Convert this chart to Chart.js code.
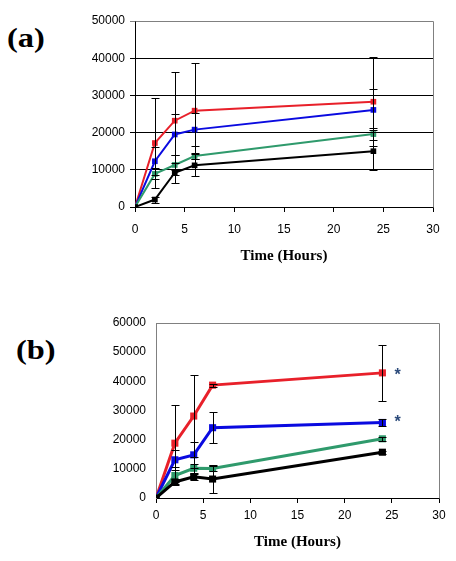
<!DOCTYPE html>
<html>
<head>
<meta charset="utf-8">
<script src="https://cdn.jsdelivr.net/npm/chart.js@4.4.1/dist/chart.umd.min.js"></script>
<style>
  html, body { margin: 0; padding: 0; background: #fff; }
  body { width: 456px; height: 561px; position: relative; overflow: hidden; }
  .panel { position: absolute; left: 0; width: 456px; }
  .tag {
    position: absolute; font-family: "Liberation Serif", serif; font-weight: bold;
    font-size: 27px; line-height: 30px; transform: scaleX(1.2); transform-origin: left center;
  }
</style>
</head>
<body>
<div class="tag" style="left:7px; top:23px;">(a)</div>
<div class="tag" style="left:16px; top:335px;">(b)</div>
<div class="panel" style="top:0; height:270px;"><canvas id="chartA"></canvas></div>
<div class="panel" style="top:280px; height:281px;"><canvas id="chartB"></canvas></div>
<script>
  // ---------- data ----------
  const TIMES = [0, 2, 4, 6, 24];

  // panel (a)
  const A_RED = [0, 17200, 23200, 25900, 28300];
  const A_RED_ERR = [0, 12100, 13200, 12900, 12000];
  const A_BLUE = [0, 12300, 19500, 20800, 26100];
  const A_BLUE_ERR = [0, 3800, 5400, 4400, 5500];
  const A_GREEN = [0, 8900, 11300, 13700, 19600];
  const A_GREEN_ERR = [0, 1500, 2600, 700, 1700];
  const A_BLACK = [0, 2000, 9200, 11200, 15000];
  const A_BLACK_ERR = [0, 800, 2700, 3000, 5100];

  // panel (b)
  const B_RED = [0, 18800, 28100, 38700, 42900];
  const B_RED_ERR = [0, 13200, 14100, 500, 9500];
  const B_BLUE = [0, 13100, 14800, 24100, 25900];
  const B_BLUE_ERR = [0, 3400, 4500, 5300, 1100];
  const B_GREEN = [0, 7700, 10200, 10100, 20300];
  const B_GREEN_ERR = [0, 2900, 1500, 800, 600];
  const B_BLACK = [0, 5500, 7300, 6500, 15700];
  const B_BLACK_ERR = [0, 1000, 1000, 4900, 500];

  // significance marks in (b)
  const B_STAR_X = [25.6, 25.6];
  const B_STAR_Y = [43500, 27100];

  const X_TITLE = "Time (Hours)";

  const RED = "#e8202a", BLUE = "#0a0ae0", GREEN = "#2f9a6c", BLACK = "#000000";
  const GRAY = "#808080";

  // ---------- helpers ----------
  const pts = (ys) => TIMES.map((t, i) => ({ x: t, y: ys[i] }));

  function series(label, ys, errs, color, width, r) {
    return {
      label, data: pts(ys), errs,
      borderColor: color, backgroundColor: color,
      borderWidth: width, pointStyle: "rect", pointRadius: r,
      pointBorderWidth: 0, tension: 0,
    };
  }

  // error bars + frame + stars, all via the chart scales
  const extras = {
    id: "extras",
    afterDatasetsDraw(chart, _args, opts) {
      const { ctx, chartArea: a, scales: { x, y } } = chart;
      ctx.save();
      // frame (top + right)
      ctx.strokeStyle = GRAY; ctx.lineWidth = 1;
      ctx.beginPath();
      ctx.moveTo(Math.round(a.left) + 0.5, Math.round(a.top) + 0.5);
      ctx.lineTo(Math.round(a.right) + 0.5, Math.round(a.top) + 0.5);
      ctx.lineTo(Math.round(a.right) + 0.5, Math.round(a.bottom) + 0.5);
      ctx.stroke();
      // error bars
      ctx.strokeStyle = "#000"; ctx.lineWidth = 1;
      chart.data.datasets.forEach((ds) => {
        ds.data.forEach((p, i) => {
          const e = ds.errs[i];
          if (!e) return;
          const px = Math.round(x.getPixelForValue(p.x)) + 0.5;
          const top = Math.round(y.getPixelForValue(p.y + e)) + 0.5;
          const bot = Math.round(y.getPixelForValue(p.y - e)) + 0.5;
          ctx.beginPath();
          ctx.moveTo(px, top); ctx.lineTo(px, bot);
          ctx.moveTo(px - 4, top); ctx.lineTo(px + 4, top);
          ctx.moveTo(px - 4, bot); ctx.lineTo(px + 4, bot);
          ctx.stroke();
        });
      });
      // stars
      if (opts.starsX) {
        ctx.fillStyle = "#2b4a7a";
        ctx.font = "bold 16px 'Liberation Sans', sans-serif";
        ctx.textAlign = "center"; ctx.textBaseline = "middle";
        opts.starsX.forEach((sx, i) => {
          ctx.fillText("*", x.getPixelForValue(sx), y.getPixelForValue(opts.starsY[i]) + 4);
        });
      }
      ctx.restore();
    },
  };

  function makeChart(id, cfg) {
    return new Chart(document.getElementById(id), {
      type: "line",
      data: { datasets: cfg.datasets },
      options: {
        responsive: true, maintainAspectRatio: false, animation: false,
        layout: { padding: { top: cfg.padTop, right: cfg.padRight, left: 0, bottom: 0 } },
        plugins: {
          legend: { display: false }, tooltip: { enabled: false },
          extras: { starsX: cfg.starsX, starsY: cfg.starsY },
        },
        scales: {
          x: {
            type: "linear", min: 0, max: 30,
            ticks: { stepSize: 5, color: "#000", padding: cfg.xTickPad,
                     font: { family: "'Liberation Sans', sans-serif", size: 12 } },
            grid: { drawOnChartArea: false, drawTicks: true, tickLength: 5, color: "#000" },
            border: { color: "#000" },
            title: { display: true, text: X_TITLE, color: "#000",
                     font: { family: "'Liberation Serif', serif", size: 15, weight: "bold" },
                     padding: { top: 0, bottom: cfg.titlePad } },
            afterFit: (s) => { s.height = cfg.xHeight; s.paddingLeft = 0; s.paddingRight = 0; },
          },
          y: {
            min: 0, max: cfg.yMax,
            ticks: { stepSize: 10000, color: "#000", padding: cfg.yTickPad,
                     callback: (v) => String(v),
                     font: { family: "'Liberation Sans', sans-serif", size: 12 } },
            grid: cfg.yGrid,
            border: { color: cfg.yBorder },
            afterFit: (s) => { s.width = cfg.yWidth; s.paddingTop = 0; s.paddingBottom = 0; },
          },
        },
      },
      plugins: [extras],
    });
  }

  // ---------- (a) ----------
  makeChart("chartA", {
    datasets: [
      series("black", A_BLACK, A_BLACK_ERR, BLACK, 2, 4),
      series("green", A_GREEN, A_GREEN_ERR, GREEN, 2, 4),
      series("blue", A_BLUE, A_BLUE_ERR, BLUE, 2, 4),
      series("red", A_RED, A_RED_ERR, RED, 2, 4),
    ],
    padTop: 21, padRight: 23, yMax: 50000, yWidth: 135, xHeight: 63,
    xTickPad: 10, titlePad: 5, yTickPad: 5, yBorder: "#000",
    yGrid: { drawTicks: true, tickLength: 5,
             color: (c) => (c.tick && c.tick.value === 50000 ? GRAY : "#000") },
  });

  // ---------- (b) ----------
  makeChart("chartB", {
    datasets: [
      series("black", B_BLACK, B_BLACK_ERR, BLACK, 3, 5),
      series("green", B_GREEN, B_GREEN_ERR, GREEN, 3, 5),
      series("blue", B_BLUE, B_BLUE_ERR, BLUE, 3, 5),
      series("red", B_RED, B_RED_ERR, RED, 3, 5),
    ],
    padTop: 43, padRight: 17, yMax: 60000, yWidth: 156, xHeight: 63,
    xTickPad: 5, titlePad: 10, yTickPad: 10, yBorder: GRAY,
    yGrid: { display: true, drawOnChartArea: false, drawTicks: false },
    starsX: B_STAR_X, starsY: B_STAR_Y,
  });
</script>
</body>
</html>
